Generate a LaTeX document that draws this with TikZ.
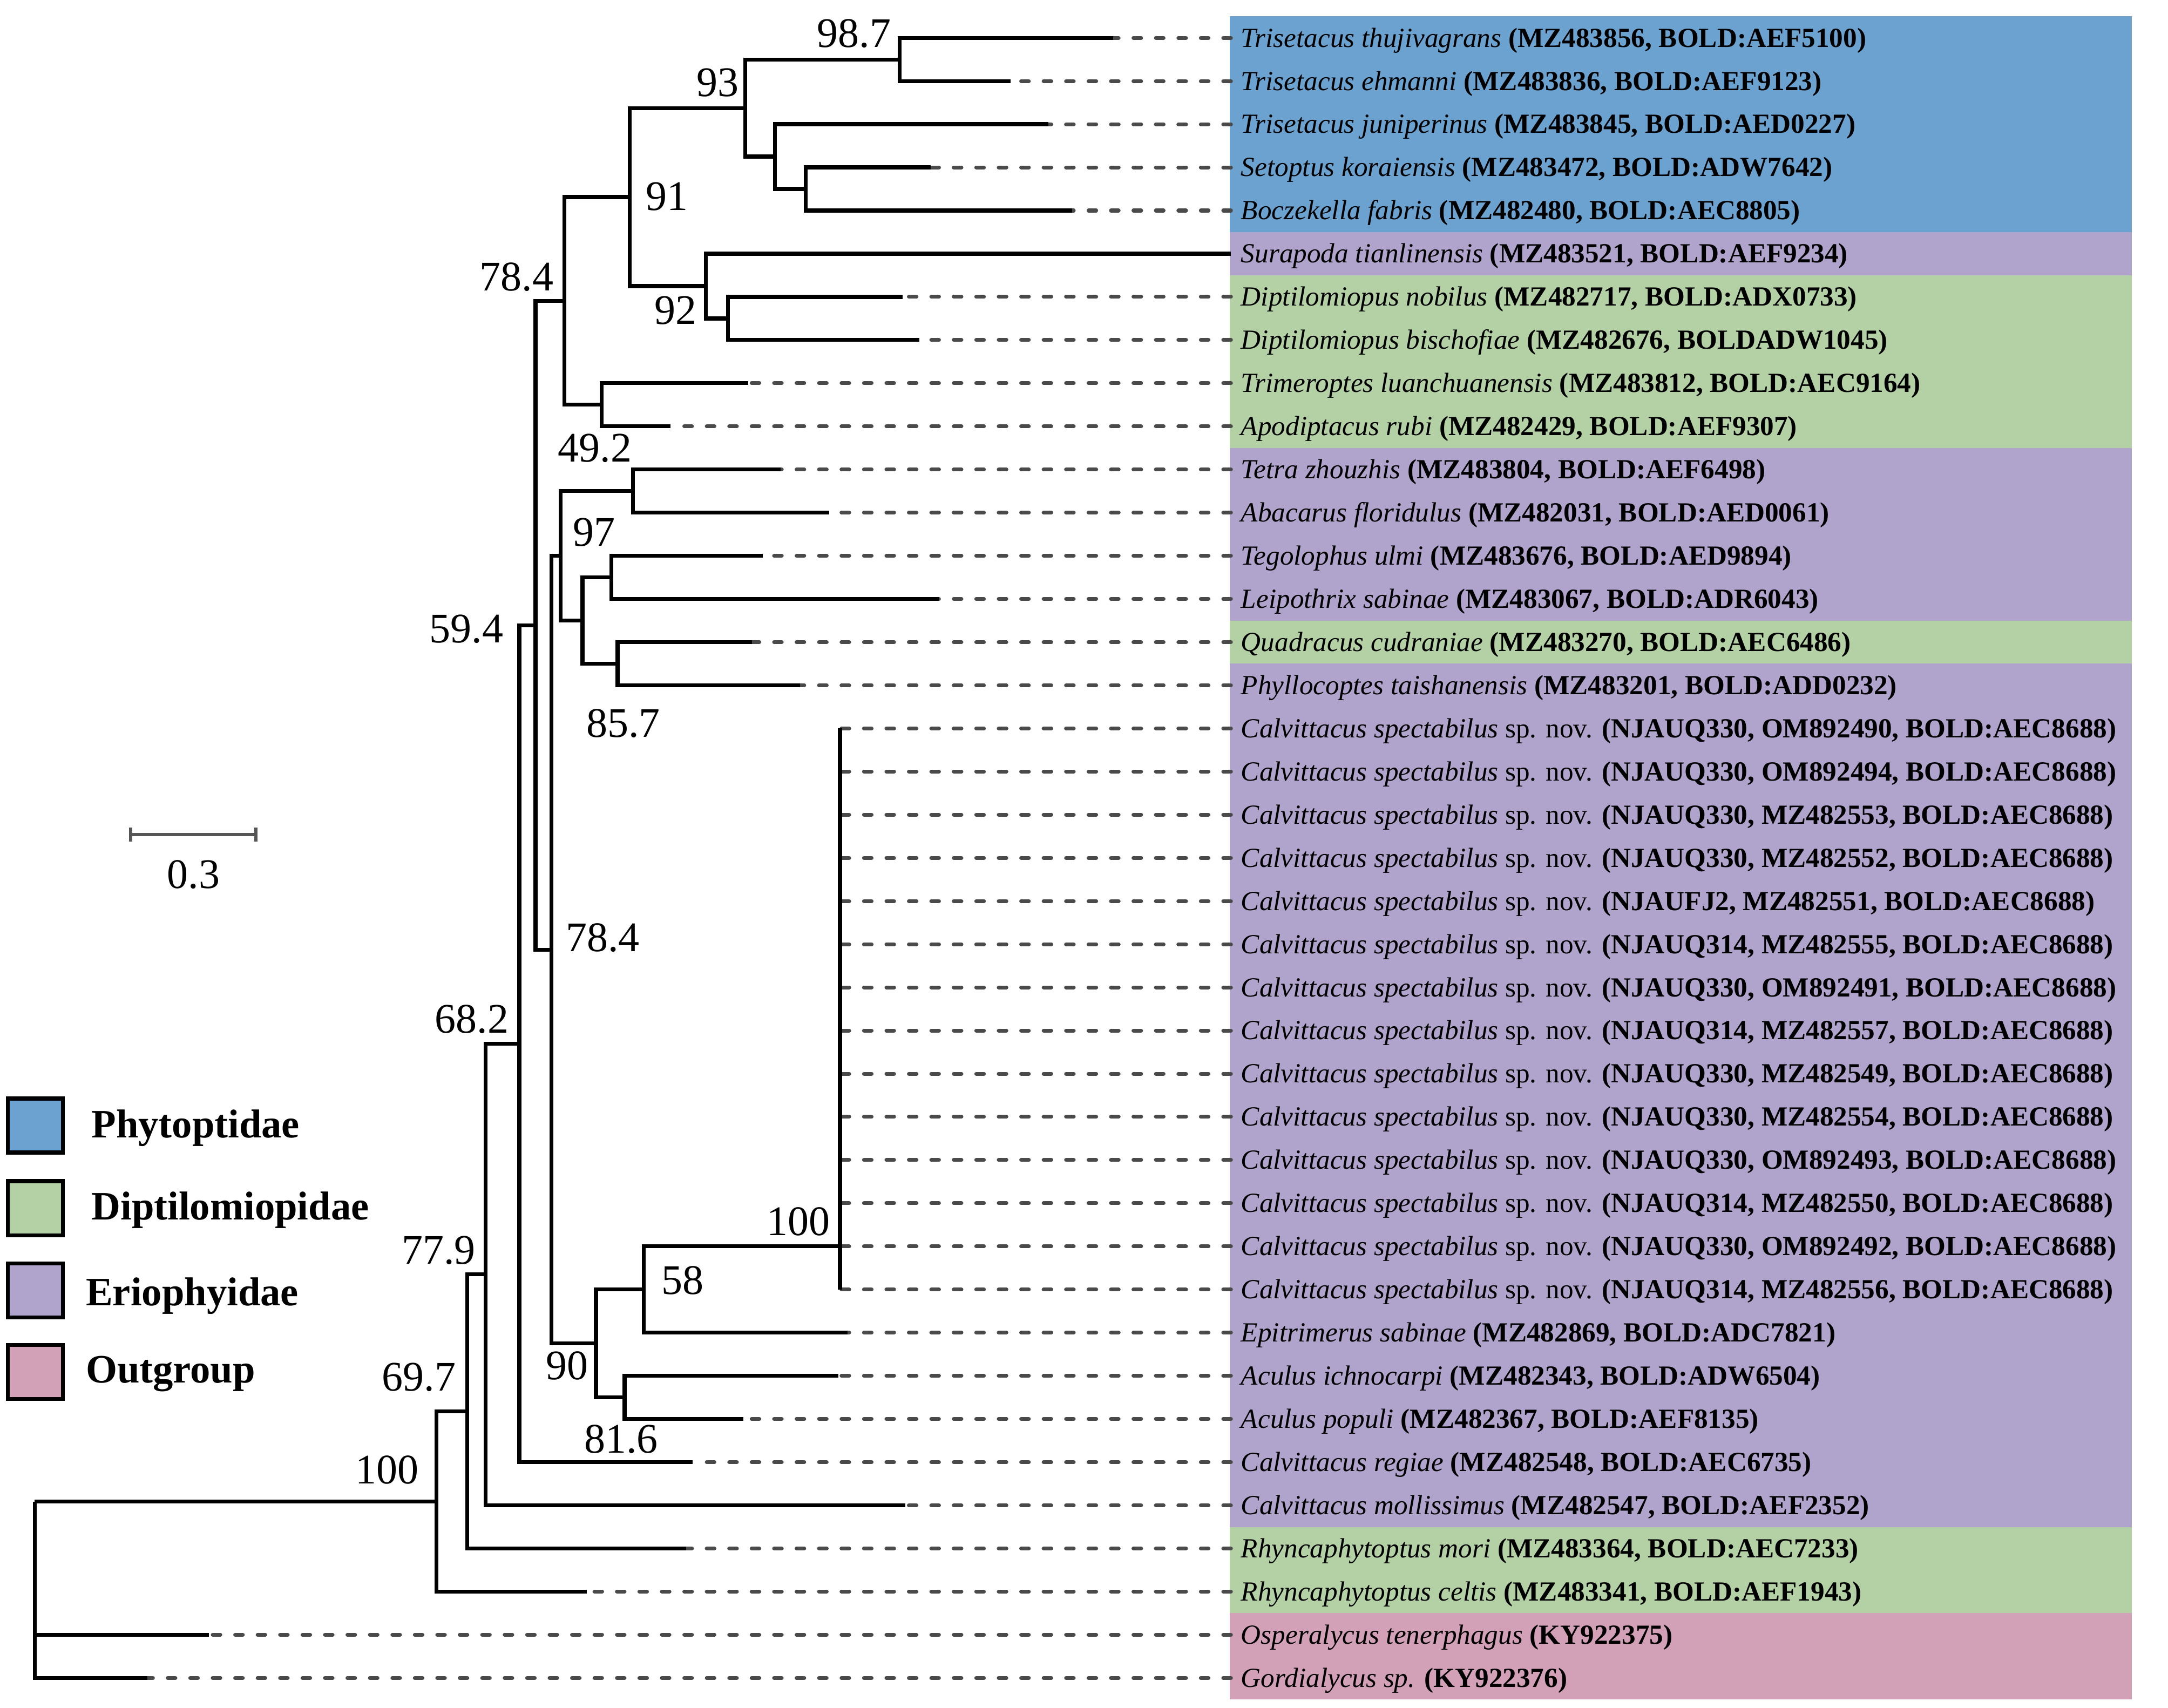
\documentclass[tikz,border=0pt]{standalone}
\usepackage{fontspec}
\setmainfont{Liberation Serif}
\definecolor{cblue}{HTML}{6CA2D0}
\definecolor{cpurp}{HTML}{B0A4CC}
\definecolor{cgreen}{HTML}{B4D1A6}
\definecolor{cpink}{HTML}{D3A1B7}
\definecolor{dashgray}{HTML}{4A4A4A}
\definecolor{bargray}{HTML}{555555}
\newcommand\taxon[2]{\textit{#1} \textbf{(#2)}}
\newcommand\calspec[1]{\textit{Calvittacus spectabilus} sp. nov. \textbf{(#1, BOLD:AEC8688)}}
\begin{document}
\begin{tikzpicture}[x=1pt,y=-1pt,
  br/.style={line width=2.8pt, line join=miter, line cap=butt},
  dsh/.style={draw=dashgray, line width=2.7pt, line cap=round, dash pattern=on 5.5pt off 10.5pt},
  lab/.style={anchor=west, inner xsep=7pt, inner ysep=0pt, text height=13pt, text depth=0pt, font=\fontsize{19.7pt}{22pt}\selectfont},
  bs/.style={anchor=base west, inner sep=0pt, font=\fontsize{30pt}{32pt}\selectfont},
  legbox/.style={draw=black, line width=2.8pt, minimum width=39pt, minimum height=38.5pt, inner sep=0pt},
  legtext/.style={anchor=base west, inner sep=0pt, font=\fontsize{28.7pt}{30pt}\selectfont\bfseries},
  sbar/.style={draw=bargray, line width=2.4pt}
]
\useasboundingbox (0,0) rectangle (1544.6,1216.9);

% colour bands
\fill[cblue]  (876,11.625)   rectangle (1519,165.375);
\fill[cpurp]  (876,165.375)  rectangle (1519,196.125);
\fill[cgreen] (876,196.125)  rectangle (1519,319.125);
\fill[cpurp]  (876,319.125)  rectangle (1519,442.125);
\fill[cgreen] (876,442.125)  rectangle (1519,472.875);
\fill[cpurp]  (876,472.875)  rectangle (1519,1087.875);
\fill[cgreen] (876,1087.875) rectangle (1519,1149.375);
\fill[cpink]  (876,1149.375) rectangle (1519,1210.875);

% leaf labels
\node[lab] (l1) at (877,27) {\taxon{Trisetacus thujivagrans}{MZ483856, BOLD:AEF5100}};
\node[lab] (l2) at (877,57.75) {\taxon{Trisetacus ehmanni}{MZ483836, BOLD:AEF9123}};
\node[lab] (l3) at (877,88.5) {\taxon{Trisetacus juniperinus}{MZ483845, BOLD:AED0227}};
\node[lab] (l4) at (877,119.25) {\taxon{Setoptus koraiensis}{MZ483472, BOLD:ADW7642}};
\node[lab] (l5) at (877,150) {\taxon{Boczekella fabris}{MZ482480, BOLD:AEC8805}};
\node[lab] (l6) at (877,180.75) {\taxon{Surapoda tianlinensis}{MZ483521, BOLD:AEF9234}};
\node[lab] (l7) at (877,211.5) {\taxon{Diptilomiopus nobilus}{MZ482717, BOLD:ADX0733}};
\node[lab] (l8) at (877,242.25) {\taxon{Diptilomiopus bischofiae}{MZ482676, BOLDADW1045}};
\node[lab] (l9) at (877,273) {\taxon{Trimeroptes luanchuanensis}{MZ483812, BOLD:AEC9164}};
\node[lab] (l10) at (877,303.75) {\taxon{Apodiptacus rubi}{MZ482429, BOLD:AEF9307}};
\node[lab] (l11) at (877,334.5) {\taxon{Tetra zhouzhis}{MZ483804, BOLD:AEF6498}};
\node[lab] (l12) at (877,365.25) {\taxon{Abacarus floridulus}{MZ482031, BOLD:AED0061}};
\node[lab] (l13) at (877,396) {\taxon{Tegolophus ulmi}{MZ483676, BOLD:AED9894}};
\node[lab] (l14) at (877,426.75) {\taxon{Leipothrix sabinae}{MZ483067, BOLD:ADR6043}};
\node[lab] (l15) at (877,457.5) {\taxon{Quadracus cudraniae}{MZ483270, BOLD:AEC6486}};
\node[lab] (l16) at (877,488.25) {\taxon{Phyllocoptes taishanensis}{MZ483201, BOLD:ADD0232}};
\node[lab] (l31) at (877,949.5) {\taxon{Epitrimerus sabinae}{MZ482869, BOLD:ADC7821}};
\node[lab] (l32) at (877,980.25) {\taxon{Aculus ichnocarpi}{MZ482343, BOLD:ADW6504}};
\node[lab] (l33) at (877,1011) {\taxon{Aculus populi}{MZ482367, BOLD:AEF8135}};
\node[lab] (l34) at (877,1041.75) {\taxon{Calvittacus regiae}{MZ482548, BOLD:AEC6735}};
\node[lab] (l35) at (877,1072.5) {\taxon{Calvittacus mollissimus}{MZ482547, BOLD:AEF2352}};
\node[lab] (l36) at (877,1103.25) {\taxon{Rhyncaphytoptus mori}{MZ483364, BOLD:AEC7233}};
\node[lab] (l37) at (877,1134) {\taxon{Rhyncaphytoptus celtis}{MZ483341, BOLD:AEF1943}};
\node[lab] (l38) at (877,1164.75) {\taxon{Osperalycus tenerphagus}{KY922375}};
\node[lab] (l39) at (877,1195.5) {\taxon{Gordialycus sp.}{KY922376}};

% tips
\coordinate (t1) at (793,27);
\coordinate (t2) at (720,57.75);
\coordinate (t3) at (747,88.5);
\coordinate (t4) at (663,119.25);
\coordinate (t5) at (764,150);
\coordinate (t7) at (643,211.5);
\coordinate (t8) at (655,242.25);
\coordinate (t9) at (533,273);
\coordinate (t10) at (477.7,303.75);
\coordinate (t11) at (556,334.5);
\coordinate (t12) at (590.7,365.25);
\coordinate (t13) at (543.5,396);
\coordinate (t14) at (669,426.75);
\coordinate (t15) at (535.8,457.5);
\coordinate (t16) at (570,488.25);
\coordinate (t31) at (604,949.5);
\coordinate (t32) at (597.4,980.25);
\coordinate (t33) at (529.7,1011);
\coordinate (t34) at (493.5,1041.75);
\coordinate (t35) at (645,1072.5);
\coordinate (t36) at (489,1103.25);
\coordinate (t37) at (418,1134);
\coordinate (t38) at (149,1164.75);
\coordinate (t39) at (104.9,1195.5);

\foreach \i in {1,2,3,4,5,7,8,9,10,11,12,13,14,15,16,31,32,33,34,35,36,37,38,39}
  {\draw[dsh] (l\i.west) -- (t\i);}

% Calvittacus spectabilus clade
\foreach \i/\id in {17/{NJAUQ330, OM892490},18/{NJAUQ330, OM892494},19/{NJAUQ330, MZ482553},
  20/{NJAUQ330, MZ482552},21/{NJAUFJ2, MZ482551},22/{NJAUQ314, MZ482555},23/{NJAUQ330, OM892491},
  24/{NJAUQ314, MZ482557},25/{NJAUQ330, MZ482549},26/{NJAUQ330, MZ482554},27/{NJAUQ330, OM892493},
  28/{NJAUQ314, MZ482550},29/{NJAUQ330, OM892492},30/{NJAUQ314, MZ482556}}{
  \pgfmathsetmacro\yy{27+(\i-1)*30.75}
  \node[lab] (l\i) at (877,\yy) {\calspec{\id}};
  \coordinate (t\i) at (598.5,\yy);
  \draw[dsh] (l\i.west) -- (t\i);
}

% internal nodes
\coordinate (nA) at (641,42.4);
\coordinate (nSB) at (574,134.6);
\coordinate (nJ) at (552,111.5);
\coordinate (n93) at (531,77);
\coordinate (nDip) at (518.6,226.9);
\coordinate (n92) at (503,203.8);
\coordinate (n91) at (448.6,140.4);
\coordinate (n49) at (428.6,288.4);
\coordinate (n78a) at (402,214.4);
\coordinate (nTA) at (451,349.9);
\coordinate (nTL) at (435.5,411.4);
\coordinate (nQP) at (440,472.9);
\coordinate (nTLQP) at (415,442.1);
\coordinate (n97) at (399.5,396);
\coordinate (nSpec) at (598.5,888);
\coordinate (n58) at (458.6,918.75);
\coordinate (nAcu) at (445,995.6);
\coordinate (n90) at (424.6,957.2);
\coordinate (n78b) at (393,676.6);
\coordinate (n59) at (381.5,445.5);
\coordinate (n68) at (370,743.6);
\coordinate (n77) at (346,908);
\coordinate (n69) at (333,1005.6);
\coordinate (n100) at (311,1069.8);
\coordinate (root) at (24.7,1069.8);

\draw[br] (nA) |- (t1);  \draw[br] (nA) |- (t2);
\draw[br] (nSB) |- (t4); \draw[br] (nSB) |- (t5);
\draw[br] (nJ) |- (t3);  \draw[br] (nJ) |- (nSB);
\draw[br] (n93) |- (nA); \draw[br] (n93) |- (nJ);
\draw[br] (nDip) |- (t7); \draw[br] (nDip) |- (t8);
\draw[br] (n92) |- (l6.west); \draw[br] (n92) |- (nDip);
\draw[br] (n91) |- (n93); \draw[br] (n91) |- (n92);
\draw[br] (n49) |- (t9); \draw[br] (n49) |- (t10);
\draw[br] (n78a) |- (n91); \draw[br] (n78a) |- (n49);
\draw[br] (nTA) |- (t11); \draw[br] (nTA) |- (t12);
\draw[br] (nTL) |- (t13); \draw[br] (nTL) |- (t14);
\draw[br] (nQP) |- (t15); \draw[br] (nQP) |- (t16);
\draw[br] (nTLQP) |- (nTL); \draw[br] (nTLQP) |- (nQP);
\draw[br] (n97) |- (nTA); \draw[br] (n97) |- (nTLQP);
\draw[br] (t17) -- (t30);
\draw[br] (n58) |- (nSpec); \draw[br] (n58) |- (t31);
\draw[br] (nAcu) |- (t32); \draw[br] (nAcu) |- (t33);
\draw[br] (n90) |- (n58); \draw[br] (n90) |- (nAcu);
\draw[br] (n78b) |- (n97); \draw[br] (n78b) |- (n90);
\draw[br] (n59) |- (n78a); \draw[br] (n59) |- (n78b);
\draw[br] (n68) |- (n59); \draw[br] (n68) |- (t34);
\draw[br] (n77) |- (n68); \draw[br] (n77) |- (t35);
\draw[br] (n69) |- (n77); \draw[br] (n69) |- (t36);
\draw[br] (n100) |- (n69); \draw[br] (n100) |- (t37);
\draw[br] (root) -- (n100);
\draw[br] (root) |- (t38); \draw[br] (root) |- (t39);

% support values
\node[bs] (b987) at (582,33.6) {98.7};
\node[bs] (b93) at (496,68.5) {93};
\node[bs] (b91) at (460,150) {91};
\node[bs] (b92) at (466,230.8) {92};
\node[bs] (b784a) at (341.7,207) {78.4};
\node[bs] (b492) at (397.4,329) {49.2};
\node[bs] (b97) at (408,389) {97};
\node[bs] (b857) at (417.5,525) {85.7};
\node[bs] (b594) at (305.8,457.7) {59.4};
\node[bs] (b784b) at (403,678) {78.4};
\node[bs] (b682) at (309.6,735.8) {68.2};
\node[bs] (b100a) at (546,880) {100};
\node[bs] (b58) at (471,922) {58};
\node[bs] (b90) at (389,983) {90};
\node[bs] (b816) at (416,1035) {81.6};
\node[bs] (b779) at (286,900.6) {77.9};
\node[bs] (b697) at (272,991) {69.7};
\node[bs] (b100b) at (253,1057) {100};

% scale bar
\coordinate (sb1) at (93.1,594.6);
\coordinate (sb2) at (182.4,594.6);
\draw[sbar] (sb1) -- (sb2);
\draw[sbar] ([yshift=-5pt]sb1) -- ([yshift=5pt]sb1);
\draw[sbar] ([yshift=-5pt]sb2) -- ([yshift=5pt]sb2);
\node[bs] (sbl) at (119,632.7) {0.3};

% legend
\node[legbox, fill=cblue] (k1) at (25.2,801.9) {};
\node[legbox, fill=cgreen] (k2) at (25.2,860.8) {};
\node[legbox, fill=cpurp] (k3) at (25.2,919.3) {};
\node[legbox, fill=cpink] (k4) at (25.2,977.5) {};
\node[legtext] (kt1) at (65,810.7) {Phytoptidae};
\node[legtext] (kt2) at (65,869) {Diptilomiopidae};
\node[legtext] (kt3) at (61,930) {Eriophyidae};
\node[legtext] (kt4) at (61,985) {Outgroup};
\end{tikzpicture}
\end{document}
